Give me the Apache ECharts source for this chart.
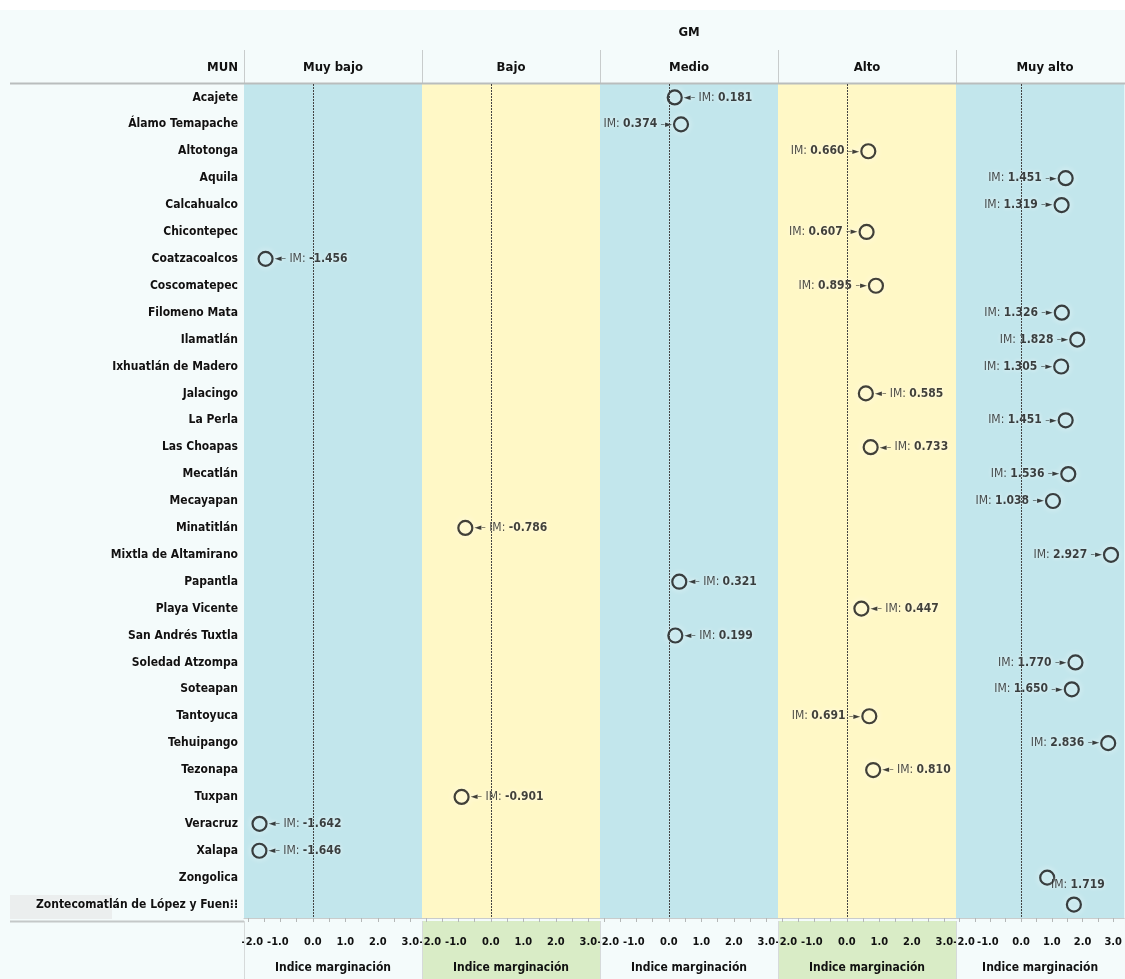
<!DOCTYPE html>
<html>
<head>
<meta charset="utf-8">
<title>Indice marginación por municipio</title>
<script src="https://cdn.jsdelivr.net/npm/echarts@6.0.0/dist/echarts.min.js"></script>
<style>
html, body { margin: 0; padding: 0; background: #f4fbfb; }
#chart { width: 1125px; height: 979px; }
</style>
</head>
<body>
<div id="chart"></div>
<script>
// filas: municipios
var municipios = [
  'Acajete', 'Álamo Temapache', 'Altotonga', 'Aquila', 'Calcahualco', 'Chicontepec',
  'Coatzacoalcos', 'Coscomatepec', 'Filomeno Mata', 'Ilamatlán', 'Ixhuatlán de Madero',
  'Jalacingo', 'La Perla', 'Las Choapas', 'Mecatlán', 'Mecayapan', 'Minatitlán',
  'Mixtla de Altamirano', 'Papantla', 'Playa Vicente', 'San Andrés Tuxtla',
  'Soledad Atzompa', 'Soteapan', 'Tantoyuca', 'Tehuipango', 'Tezonapa', 'Tuxpan',
  'Veracruz', 'Xalapa', 'Zongolica', 'Zontecomatlán de López y Fuentes'
]
// columnas: grado de marginación (GM)
var grados = ['Muy bajo', 'Bajo', 'Medio', 'Alto', 'Muy alto']
// GM de cada municipio
var gmMunicipio = [
  'Medio', 'Medio', 'Alto', 'Muy alto', 'Muy alto', 'Alto',
  'Muy bajo', 'Alto', 'Muy alto', 'Muy alto', 'Muy alto',
  'Alto', 'Muy alto', 'Alto', 'Muy alto', 'Muy alto', 'Bajo',
  'Muy alto', 'Medio', 'Alto', 'Medio',
  'Muy alto', 'Muy alto', 'Alto', 'Muy alto', 'Alto', 'Bajo',
  'Muy bajo', 'Muy bajo', 'Muy alto', 'Muy alto'
]
// indice de marginación (IM)
var indiceMarg = [
  0.181, 0.374, 0.660, 1.451, 1.319, 0.607,
  -1.456, 0.895, 1.326, 1.828, 1.305,
  0.585, 1.451, 0.733, 1.536, 1.038, -0.786,
  2.927, 0.321, 0.447, 0.199,
  1.770, 1.650, 0.691, 2.836, 0.810, -0.901,
  -1.642, -1.646, 0.85, 1.719
]
// donde va la etiqueta de cada punto ('none' = sin etiqueta)
var ladoEtiqueta = [
  'right', 'left', 'left', 'left', 'left', 'left',
  'right', 'left', 'left', 'left', 'left',
  'right', 'left', 'right', 'left', 'left', 'right',
  'left', 'right', 'right', 'right',
  'left', 'left', 'left', 'left', 'right', 'right',
  'right', 'right', 'none', 'top'
]
var ticksLabel = [-2, -1, 0, 1, 2, 3]
var ticksMarca = [-2, -1.5, -1, -0.5, 0, 0.5, 1, 1.5, 2, 2.5, 3]

var fuente = '"Liberation Sans Narrow", "DejaVu Sans Condensed", "Arial Narrow", Arial, sans-serif'
var panelX = 244
var panelW = 178
var gridTop = 84
var gridH = 837
var coloresPanel = ['#c2e6ec', '#fff8c6', '#c2e6ec', '#fff8c6', '#c2e6ec']

let myChart = echarts.init(document.getElementById('chart'))

let grids = []
let xAxes = []
let yAxes = []
let series = []
let graphic = []

grados.forEach(function (g, i) {
  grids.push({
    show: true,
    left: panelX + panelW * i,
    top: gridTop,
    width: panelW,
    height: gridH,
    backgroundColor: coloresPanel[i],
    borderWidth: 0
  })
  xAxes.push({
    type: 'value',
    gridIndex: i,
    min: -2.12,
    max: 3.36,
    splitLine: { show: false },
    axisLine: { show: true, lineStyle: { color: '#c9cccc' } },
    axisTick: { show: true, length: 4, lineStyle: { color: '#b5b8b8' }, customValues: ticksMarca },
    axisLabel: {
      customValues: ticksLabel,
      hideOverlap: false,
      // -2.0 y -1.0 se apretan como en el original
      formatter: function (v) {
        if (v === -2) return '{r|' + v.toFixed(1) + '}'
        if (v === -1) return '{l|' + v.toFixed(1) + '}'
        return v.toFixed(1)
      },
      rich: {
        r: { padding: [0, 0, 0, 9], fontFamily: fuente, fontWeight: 'bold', fontSize: 11, color: '#111' },
        l: { padding: [0, 5, 0, 0], fontFamily: fuente, fontWeight: 'bold', fontSize: 11, color: '#111' }
      },
      color: '#111',
      fontFamily: fuente,
      fontWeight: 'bold',
      fontSize: 11,
      margin: 19,
      showMinLabel: true,
      showMaxLabel: true
    },
    name: 'Indice marginación',
    nameLocation: 'middle',
    nameGap: 44,
    nameTextStyle: { color: '#111', fontFamily: fuente, fontWeight: 'bold', fontSize: 12 }
  })
  yAxes.push({
    type: 'category',
    gridIndex: i,
    data: municipios,
    inverse: true,
    axisLine: { show: false },
    axisTick: { show: false },
    splitLine: { show: false },
    axisLabel: {
      show: i === 0,
      margin: 6,
      color: '#111',
      fontFamily: fuente,
      fontWeight: 'bold',
      fontSize: 12,
      textShadowColor: '#fff',
      textShadowBlur: 3,
      formatter: function (v) {
        return v.length > 29 ? v.slice(0, 29) + '\u205d\u205d' : v
      }
    }
  })

  // puntos de este panel
  let puntos = []
  municipios.forEach(function (m, k) {
    if (gmMunicipio[k] !== g) return
    let lado = ladoEtiqueta[k]
    let txt = indiceMarg[k].toFixed(3)
    let label = { show: false }
    if (lado === 'left') {
      label = { show: true, position: 'left', distance: 1, formatter: '{a|IM:} {b|' + txt + '} {c|\u2013\u25ba}' }
    } else if (lado === 'right') {
      label = { show: true, position: 'right', distance: 1, formatter: '{c|\u25c4\u2013} {a|IM:} {b|' + txt + '}' }
    } else if (lado === 'top') {
      label = { show: true, position: 'top', distance: 6, offset: [4, 0], formatter: '{a|IM:} {b|' + txt + '}' }
    }
    puntos.push({ value: [indiceMarg[k], m], label: label })
  })

  series.push({
    type: 'scatter',
    xAxisIndex: i,
    yAxisIndex: i,
    symbol: 'circle',
    symbolSize: 14,
    itemStyle: {
      color: 'rgba(0,0,0,0)',
      borderColor: '#111',
      borderWidth: 2.2,
      shadowColor: '#ffffff',
      shadowBlur: 6
    },
    label: {
      textShadowColor: '#fff',
      textShadowBlur: 4,
      rich: {
        a: { fontFamily: fuente, fontSize: 12, color: '#222' },
        b: { fontFamily: fuente, fontSize: 12, fontWeight: 'bold', color: '#111' },
        c: { fontFamily: 'DejaVu Sans', fontSize: 9, color: '#111' }
      }
    },
    data: puntos,
    markLine: {
      silent: true,
      symbol: 'none',
      label: { show: false },
      lineStyle: { color: '#444', type: [2, 1], width: 1 },
      data: [{ xAxis: 0 }]
    }
  })

  // cabecera de cada panel
  graphic.push({
    type: 'text',
    style: {
      text: g, x: panelX + panelW * i + panelW / 2, y: 68,
      textAlign: 'center', textVerticalAlign: 'middle', align: 'center', verticalAlign: 'middle',
      font: 'bold 13px ' + fuente, fill: '#111'
    }
  })
  // separadores de cabecera y de eje
  graphic.push({
    type: 'line', z: 5,
    shape: { x1: panelX + panelW * i + 0.5, y1: 50, x2: panelX + panelW * i + 0.5, y2: gridTop },
    style: { stroke: '#c8cccc', lineWidth: 1 }
  })
  graphic.push({
    type: 'line', z: 5,
    shape: { x1: panelX + panelW * i + 0.5, y1: gridTop + gridH, x2: panelX + panelW * i + 0.5, y2: 979 },
    style: { stroke: '#d6dada', lineWidth: 1 }
  })
  // fondo verde del eje en Bajo y Alto
  if (i === 1 || i === 3) {
    graphic.push({
      type: 'rect', z: -10,
      shape: { x: panelX + panelW * i, y: gridTop + gridH, width: panelW, height: 979 - gridTop - gridH },
      style: { fill: '#d9ecc6' }
    })
  }
})

graphic.push({
  type: 'rect', z: -10,
  shape: { x: 0, y: 0, width: 1125, height: 10 },
  style: { fill: '#ffffff' }
})
graphic.push({
  type: 'text',
  style: {
    text: 'GM', x: panelX + panelW * 2.5, y: 33,
    textAlign: 'center', textVerticalAlign: 'middle', align: 'center', verticalAlign: 'middle',
    font: 'bold 13px ' + fuente, fill: '#111'
  }
})
graphic.push({
  type: 'text',
  style: {
    text: 'MUN', x: 238, y: 68,
    textAlign: 'right', textVerticalAlign: 'middle', align: 'right', verticalAlign: 'middle',
    font: 'bold 13px ' + fuente, fill: '#111'
  }
})
graphic.push({
  type: 'line', z: 5,
  shape: { x1: 10, y1: gridTop - 0.5, x2: 1125, y2: gridTop - 0.5 },
  style: { stroke: '#b9bdbd', lineWidth: 2 }
})
graphic.push({
  type: 'line', z: 5,
  shape: { x1: 10, y1: gridTop + gridH + 0.5, x2: panelX, y2: gridTop + gridH + 0.5 },
  style: { stroke: '#c4c8c8', lineWidth: 2 }
})
// celda resaltada de la ultima fila
graphic.push({
  type: 'rect', z: -10,
  shape: { x: 10, y: 895, width: 102, height: 24 },
  style: { fill: '#ebeeee' }
})

myChart.setOption({
  backgroundColor: '#f4fbfb',
  animation: false,
  grid: grids,
  xAxis: xAxes,
  yAxis: yAxes,
  series: series,
  graphic: graphic
})
</script>
</body>
</html>
